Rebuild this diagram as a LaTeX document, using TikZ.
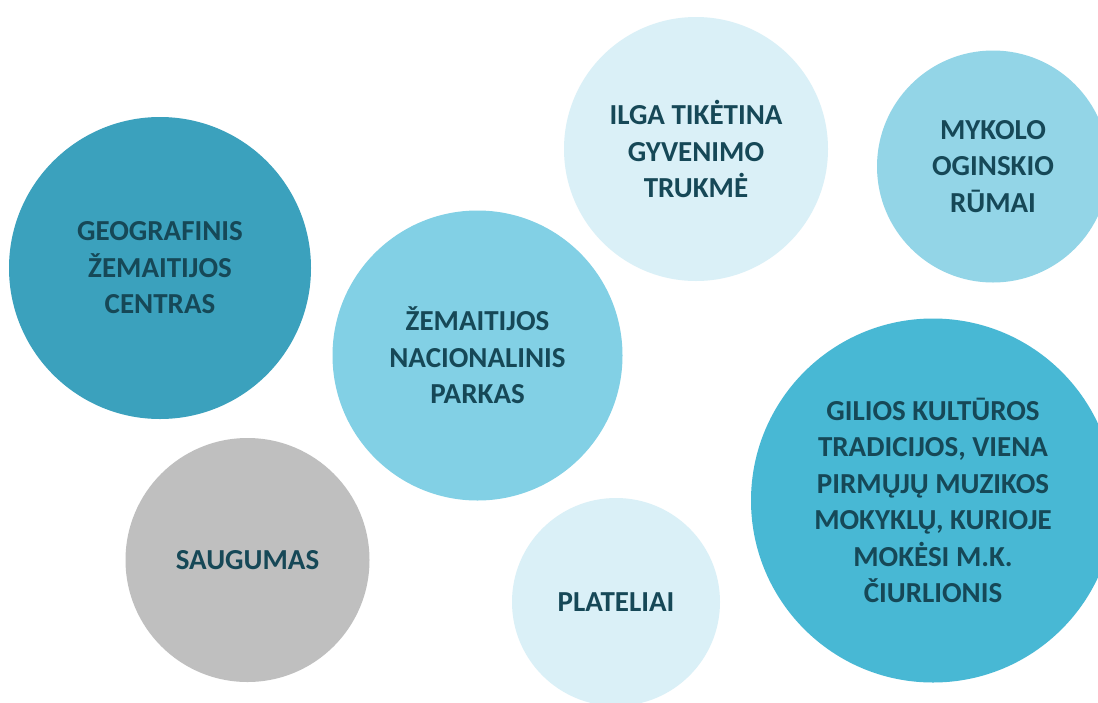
\documentclass[tikz,border=0pt]{standalone}
\usepackage{fontspec}
\setmainfont{Carlito}
\definecolor{txt}{RGB}{22,72,87}
\definecolor{cA}{RGB}{59,161,189}
\definecolor{cB}{RGB}{130,208,229}
\definecolor{cC}{RGB}{218,240,247}
\definecolor{cD}{RGB}{147,213,231}
\definecolor{cE}{RGB}{72,184,212}
\definecolor{cF}{RGB}{191,191,191}
\tikzset{
  bubble/.style={circle, inner sep=0pt, draw=none, text=txt, align=center,
    font=\fontsize{29}{36.5}\selectfont\bfseries}
}
\begin{document}
\begin{tikzpicture}[x=1pt,y=-1pt]
\clip (0,0) rectangle (1098,702);
\fill[white] (0,0) rectangle (1098,702);
\node[bubble, fill=cA, minimum size=302pt] (geo) at (160,268) {GEOGRAFINIS\\ŽEMAITIJOS\\CENTRAS};
\node[bubble, fill=cB, minimum size=290pt] (park) at (477.5,355.5) {ŽEMAITIJOS\\NACIONALINIS\\PARKAS};
\node[bubble, fill=cC, minimum size=264pt] (ilga) at (696,149) {ILGA TIKĖTINA\\GYVENIMO\\TRUKMĖ};
\node[bubble, fill=cD, minimum size=232pt] (myk) at (993,166.5) {MYKOLO\\OGINSKIO\\RŪMAI};
\node[bubble, fill=cE, minimum size=364pt] (gil) at (933,500.5) {GILIOS KULTŪROS\\TRADICIJOS, VIENA\\PIRMŲJŲ MUZIKOS\\MOKYKLŲ, KURIOJE\\MOKĖSI M.K.\\ČIURLIONIS};
\node[bubble, fill=cF, minimum size=244pt] (saug) at (247.5,560) {SAUGUMAS};
\node[bubble, fill=cC, minimum size=208pt] (plat) at (616,602) {PLATELIAI};
\end{tikzpicture}
\end{document}
